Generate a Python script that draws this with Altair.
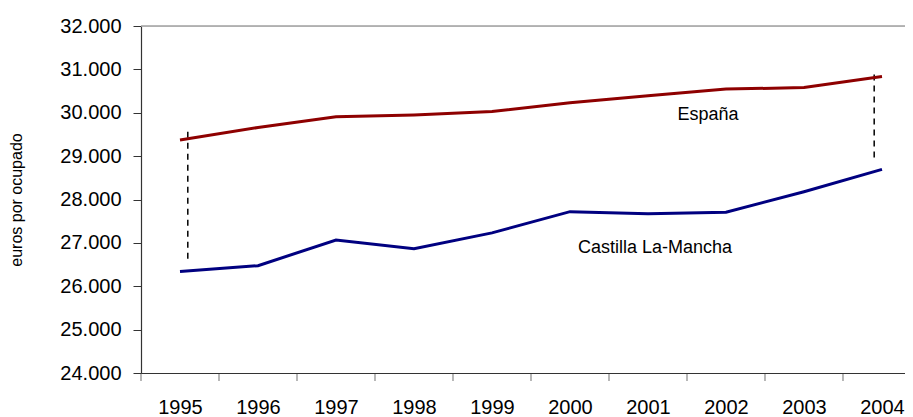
import altair as alt
import pandas as pd

years = [1995, 1996, 1997, 1998, 1999, 2000, 2001, 2002, 2003, 2004]
espana = [29370, 29660, 29905, 29948, 30030, 30230, 30390, 30545, 30580, 30835]
castilla = [26340, 26475, 27065, 26865, 27230, 27720, 27670, 27705, 28180, 28695]
series_names = ["España", "Castilla La-Mancha"]
series_colors = ["#8E0000", "#000080"]

# category boundaries (Excel-style ticks between years)
tick_bounds = [1994.5, 1995.5, 1996.5, 1997.5, 1998.5, 1999.5, 2000.5, 2001.5, 2002.5, 2003.5]

# dashed gap markers
gap_x = [1995.1, 2003.9]
gap_top = [29560, 30880]
gap_bottom = [26570, 28870]

# text labels
label_text = ["España", "Castilla La-Mancha"]
label_x = [2001.77, 2001.09]
label_y = [29950, 26880]

FONT = "Liberation Sans"

rows = []
for name, vals in zip(series_names, [espana, castilla]):
    for y, v in zip(years, vals):
        rows.append({"year": y, "value": v, "serie": name})
df = pd.DataFrame(rows)

x_scale = alt.Scale(domain=[1994.5, 2004.295], nice=False, zero=False)
y_scale = alt.Scale(domain=[24000, 32000], nice=False, zero=False)

x_enc = alt.X("year:Q", scale=x_scale,
              axis=alt.Axis(title=None, values=years, format="d", labelAngle=0,
                            labelFontSize=20, labelFont=FONT, labelColor="#000000",
                            ticks=False, tickSize=0, labelPadding=24,
                            domainColor="#333333", domainWidth=1.2, grid=False,
                            labelFlush=False, labelOverlap=False))
y_axis = alt.Axis(title="euros por ocupado", values=list(range(24000, 32001, 1000)),
                  labelExpr="replace(format(datum.value, ','), ',', '.')",
                  labelFontSize=20, labelFont=FONT, labelColor="#000000",
                  labelPadding=12, tickSize=8, domainColor="#333333",
                  tickColor="#333333", domainWidth=1.2, grid=False,
                  titleFont=FONT, titleFontSize=16, titleFontWeight="normal",
                  titleColor="#000000", titlePadding=35)

lines = alt.Chart(df).mark_line(strokeWidth=3).encode(
    x=x_enc,
    y=alt.Y("value:Q", scale=y_scale, axis=y_axis),
    color=alt.Color("serie:N", scale=alt.Scale(domain=series_names, range=series_colors), legend=None),
)

top_border = alt.Chart(pd.DataFrame({"v": [32000]})).mark_rule(color="#a0a0a0", strokeWidth=1.5).encode(
    y=alt.Y("v:Q", scale=y_scale),
)

ticks = alt.Chart(pd.DataFrame({"x": tick_bounds, "v": [24000] * len(tick_bounds)})).mark_tick(
    orient="vertical", size=8, thickness=1, color="#333333", yOffset=4
).encode(x=alt.X("x:Q", scale=x_scale), y=alt.Y("v:Q", scale=y_scale))

gaps = alt.Chart(pd.DataFrame({"x": gap_x, "top": gap_top, "bottom": gap_bottom})).mark_rule(
    color="#000000", strokeDash=[6, 5], strokeWidth=1.5
).encode(x=alt.X("x:Q", scale=x_scale), y=alt.Y("top:Q", scale=y_scale), y2="bottom:Q")

texts = alt.Chart(pd.DataFrame({"x": label_x, "v": label_y, "t": label_text})).mark_text(
    font=FONT, fontSize=18, color="#000000", baseline="middle", align="center"
).encode(x=alt.X("x:Q", scale=x_scale), y=alt.Y("v:Q", scale=y_scale), text="t:N")

chart = alt.layer(top_border, gaps, lines, ticks, texts).properties(
    width=764, height=347,
    autosize=alt.AutoSizeParams(type="none"),
    padding={"left": 133, "top": 18, "right": 0, "bottom": 44},
).configure_view(stroke=None).configure(background="#ffffff")

chart.save("out.html", embed_options={"renderer": "svg", "actions": False})
